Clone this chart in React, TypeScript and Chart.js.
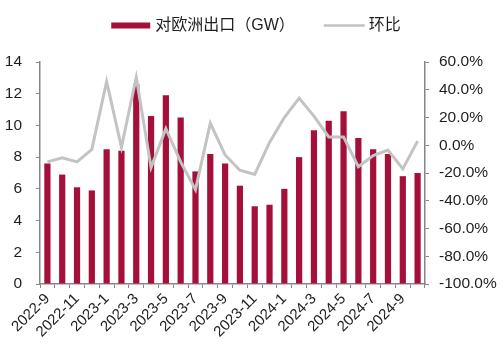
import React, { useEffect, useRef } from 'react';
import { Chart, registerables } from 'chart.js';

Chart.register(...registerables);

const months = [
  '2022-9', '2022-10', '2022-11', '2022-12',
  '2023-1', '2023-2', '2023-3', '2023-4', '2023-5', '2023-6', '2023-7', '2023-8', '2023-9', '2023-10', '2023-11', '2023-12',
  '2024-1', '2024-2', '2024-3', '2024-4', '2024-5', '2024-6', '2024-7', '2024-8', '2024-9', '2024-10',
];
const exportsGW = [7.6, 6.9, 6.1, 5.9, 8.5, 8.4, 12.6, 10.6, 11.9, 10.5, 7.1, 8.2, 7.6, 6.2, 4.9, 5.0, 6.0, 8.0, 9.7, 10.3, 10.9, 9.2, 8.5, 8.2, 6.8, 7.0];
const momPct = [-12, -9, -12, -3, 46, -1.5, 49, -16, 12, -12, -32, 16, -7, -18, -21, 2, 20, 34, 21, 6, 6, -15.5, -7.5, -3.5, -17, 3];
const seriesNames = ['对欧洲出口（GW）', '环比'];

const BAR_COLOR = '#A5103A';
const LINE_COLOR = '#C3C3C3';
const AXIS_COLOR = '#868686';
const TEXT_COLOR = '#1e1e1e';
const FONT_FAMILY = '"Liberation Sans", Arial, "Noto Sans CJK SC", sans-serif';

const legendPlugin = {
  id: 'customLegend',
  afterDraw(chart: any) {
    const ctx = chart.ctx as CanvasRenderingContext2D;
    ctx.save();
    ctx.font = `16px ${FONT_FAMILY}`;
    ctx.textBaseline = 'middle';
    ctx.textAlign = 'left';
    const y = 25.5;
    const rectW = 39;
    const lineW = 41;
    const w1 = ctx.measureText(seriesNames[0]).width;
    const w2 = ctx.measureText(seriesNames[1]).width;
    const total = rectW + 5 + w1 + 29 + lineW + 4 + w2;
    let x = 256 - total / 2;
    ctx.fillStyle = BAR_COLOR;
    ctx.fillRect(x, y - 3, rectW, 6);
    x += rectW + 5;
    ctx.fillStyle = TEXT_COLOR;
    ctx.fillText(seriesNames[0], x, y);
    x += w1 + 29;
    ctx.strokeStyle = LINE_COLOR;
    ctx.lineWidth = 2.5;
    ctx.beginPath();
    ctx.moveTo(x, y);
    ctx.lineTo(x + lineW, y);
    ctx.stroke();
    x += lineW + 4;
    ctx.fillText(seriesNames[1], x, y);
    ctx.restore();
  },
};

export default function App() {
  const canvasRef = useRef<HTMLCanvasElement | null>(null);

  useEffect(() => {
    if (!canvasRef.current) return;
    const chart = new Chart(canvasRef.current, {
      type: 'bar',
      data: {
        labels: months,
        datasets: [
          {
            type: 'line',
            label: seriesNames[1],
            data: momPct,
            yAxisID: 'y1',
            borderColor: LINE_COLOR,
            backgroundColor: LINE_COLOR,
            borderWidth: 3,
            pointRadius: 0,
            tension: 0,
            order: 0,
          } as any,
          {
            type: 'bar',
            label: seriesNames[0],
            data: exportsGW,
            yAxisID: 'y',
            backgroundColor: BAR_COLOR,
            barPercentage: 0.42,
            categoryPercentage: 1,
            order: 1,
          },
        ],
      },
      options: {
        responsive: false,
        animation: false,
        layout: { padding: { top: 62, left: 0, right: 0, bottom: 0 } },
        plugins: {
          legend: { display: false },
          tooltip: { enabled: false },
        },
        scales: {
          x: {
            grid: {
              display: true,
              drawOnChartArea: false,
              drawTicks: true,
              tickLength: 4,
              color: AXIS_COLOR,
              offset: true,
            },
            border: { display: true, color: AXIS_COLOR, width: 1.5 },
            ticks: {
              autoSkip: false,
              minRotation: 45,
              maxRotation: 45,
              padding: 2,
              color: TEXT_COLOR,
              font: { size: 15, family: FONT_FAMILY },
              callback: (_v: any, i: number) => (i % 2 === 0 ? months[i] : ''),
            },
            afterFit: (s: any) => { s.height = 74; },
          },
          y: {
            position: 'left',
            min: 0,
            max: 14,
            grid: { display: true, drawOnChartArea: false, drawTicks: true, tickLength: 4, color: AXIS_COLOR },
            border: { display: true, color: AXIS_COLOR, width: 1.5 },
            ticks: {
              stepSize: 2,
              padding: 14,
              color: TEXT_COLOR,
              font: { size: 15.5, family: FONT_FAMILY },
            },
            afterFit: (s: any) => { s.width = 40; },
          },
          y1: {
            position: 'right',
            min: -100,
            max: 60,
            grid: { display: true, drawOnChartArea: false, drawTicks: true, tickLength: 4, color: AXIS_COLOR },
            border: { display: true, color: AXIS_COLOR, width: 1.5 },
            ticks: {
              stepSize: 20,
              padding: 10,
              color: TEXT_COLOR,
              font: { size: 15.5, family: FONT_FAMILY },
              callback: (v: any) => `${Number(v).toFixed(1)}%`,
            },
            afterFit: (s: any) => { s.width = 79; },
          },
        },
      },
      plugins: [legendPlugin],
    });
    return () => chart.destroy();
  }, []);

  return (
    <div style={{ position: 'fixed', left: 0, top: 0, width: 504, height: 358, background: '#fff' }}>
      <canvas ref={canvasRef} width={504} height={358} style={{ display: 'block' }} />
    </div>
  );
}
